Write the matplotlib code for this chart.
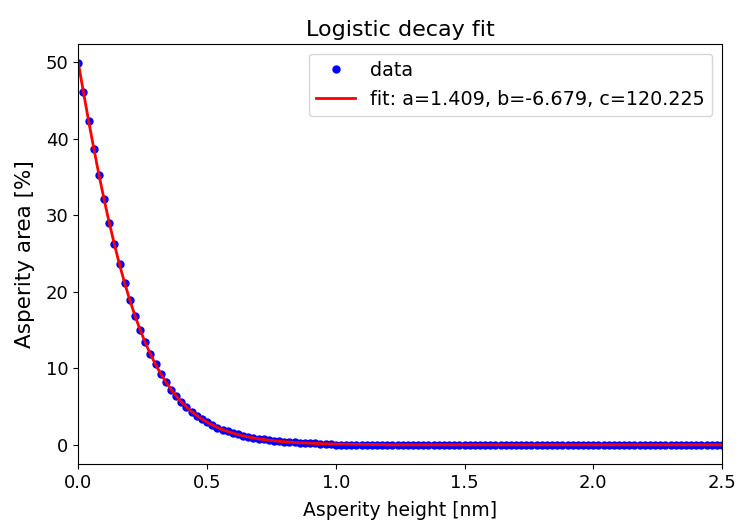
import numpy as np
import matplotlib.pyplot as plt

# werte (Schritt 0.02 nm)
height_nm = np.round(np.arange(0, 126) * 0.02, 2)

area_head = [49.9, 46.1, 42.3, 38.7, 35.3, 32.1, 29.0, 26.2, 23.6, 21.1,
             18.9, 16.9, 15.0, 13.4, 11.9, 10.5, 9.3, 8.2, 7.2, 6.4,
             5.6, 4.9, 4.35, 3.8, 3.35, 2.95, 2.6, 2.25, 2.0, 1.75,
             1.5, 1.35, 1.2, 1.05, 0.9, 0.8, 0.7, 0.6, 0.53, 0.46,
             0.41, 0.36, 0.31, 0.27, 0.24, 0.21, 0.18, 0.16, 0.14, 0.12]
area_pct = area_head + [0.0] * (len(height_nm) - len(area_head))

fit_head = [49.9, 46.06, 42.33, 38.74, 35.32, 32.08, 29.04, 26.2, 23.56, 21.14,
            18.91, 16.88, 15.03, 13.36, 11.85, 10.5, 9.29, 8.21, 7.24, 6.38,
            5.62, 4.95, 4.35, 3.83, 3.36, 2.95, 2.59, 2.27, 1.99, 1.75,
            1.53, 1.34, 1.18, 1.03, 0.9, 0.79, 0.69, 0.61, 0.53, 0.46,
            0.41, 0.36, 0.31, 0.27, 0.24, 0.21, 0.18, 0.16, 0.14, 0.12,
            0.1, 0.09, 0.08, 0.07, 0.06, 0.05, 0.04, 0.04, 0.03, 0.03]
fit_pct = fit_head + [0.0] * (len(height_nm) - len(fit_head))

fit_label = 'fit: a=1.409, b=-6.679, c=120.225'

fig = plt.figure(figsize=(7.39, 5.23), dpi=100)
ax = fig.add_axes([0.106, 0.113, 0.871, 0.803])

ax.plot(height_nm, area_pct, 'bo', markersize=5, label='data')
ax.plot(height_nm, fit_pct, 'r-', linewidth=2, label=fit_label)

ax.set_xlim(0, 2.5)
ax.set_title('Logistic decay fit', fontsize=16)
ax.set_xlabel('Asperity height [nm]', fontsize=13.5, labelpad=7)
ax.set_ylabel('Asperity area [%]', fontsize=15.5, labelpad=8)
ax.tick_params(labelsize=13)
ax.legend(loc='upper right', fontsize=13.8)

plt.savefig('out.png')
